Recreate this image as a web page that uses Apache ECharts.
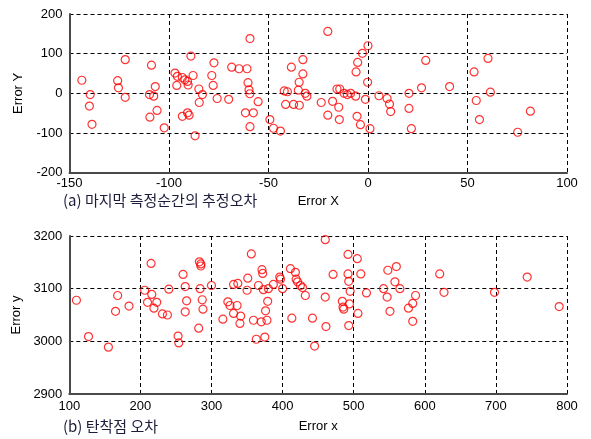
<!DOCTYPE html>
<html>
<head>
<meta charset="utf-8">
<script src="https://cdn.jsdelivr.net/npm/echarts@6/dist/echarts.min.js"></script>
<style>
  html, body { margin: 0; padding: 0; background: #fff; }
  #chart { width: 591px; height: 439px; }
</style>
</head>
<body>
<div id="chart"></div>
<script>
// (a) estimation error at the last measurement instant: [Error X, Error Y]
const lastMeasureError = [
  [-143.8, 33], [-139.6, -3], [-140, -32], [-138.7, -78], [-125.8, 32], [-125.4, 14],
  [-122, 85], [-122, -10], [-108.8, 71], [-109.8, -3], [-107.7, -7], [-106.9, 17],
  [-106, -43], [-109.6, -60], [-102.4, -87],
  [-97, 51], [-95.8, 43], [-96.1, 20], [-93.3, 40], [-92, 34], [-90.7, 30], [-89, 94],
  [-87.9, 45], [-90.4, 21],
  [-93.3, -58], [-90.7, -49], [-89.9, -55], [-86.9, -107], [-85, 11], [-83.2, -3], [-84.8, -23],
  [-77.4, 77], [-78.5, 45], [-77.8, 20], [-75.8, -13], [-70, -15], [-68.5, 66], [-64.8, 62],
  [-60.8, 62], [-60.3, 27], [-59.3, 138], [-59.8, 9], [-59.4, -1], [-61.6, -49], [-57.6, -49],
  [-59.3, -84], [-55.2, -21],
  [-49.3, -66], [-47.5, -88], [-44, -95], [-42.1, 6], [-40.5, 4], [-41.4, -28], [-37.4, -28],
  [-34.5, -30], [-38.5, 66], [-35, 8], [-34.6, 28], [-32.7, 49], [-32.7, 85], [-31.5, 0], [-30.7, -7],
  [-23.5, -23], [-20.2, 156], [-17.8, -20], [-20.2, -55], [-15.6, 11], [-14.2, 11], [-14.7, -35],
  [-14.4, -66], [-12, 0], [-10.4, -3], [-8.7, 0], [-6.2, -7],
  [0, 120], [-2.8, 101], [-5.2, 78], [-6, 54], [-0.2, 28], [-1.3, -15], [-5.5, -58], [-3.8, -79], [1, -89],
  [5.5, -6], [9.6, -13], [10.8, -27], [11.4, -46], [20.6, 0], [20.6, -38], [21.8, -89], [26.9, 14],
  [29, 83], [41, 17], [53.3, 54], [60.3, 88], [61.5, 3], [54.4, -18], [56, -66], [81.6, -45], [75.2, -98]
];

// (b) impact point error: [Error x, Error y]
const impactPointError = [
  [110, 3078], [127, 3009], [155, 2989], [165, 3057], [168, 3087], [184, 3067], [215, 3148],
  [206, 3097], [216, 3089], [210, 3074], [223, 3074], [219, 3063], [231, 3052], [238, 3050],
  [240, 3099], [253, 3010], [254, 2997], [260, 3127], [263, 3104], [265, 3077], [263, 3056],
  [283, 3151], [285, 3147], [285, 3143], [284, 3100], [287, 3079], [288, 3061], [282, 3025], [300, 3106],
  [316, 3042], [323, 3075], [326, 3068], [331, 3053], [331, 3108], [337, 3110], [336, 3068],
  [341, 3048], [340, 3034], [351, 3120], [350, 3097], [356, 3166], [359, 3040], [363, 3004],
  [366, 3106], [371, 3136], [372, 3129], [373, 3098], [376, 3058], [370, 3037], [378, 3040],
  [375, 3008], [379, 3076], [380, 3100], [387, 3108], [396, 3122], [397, 3118], [400, 3100],
  [411, 3138], [418, 3131], [419, 3118], [421, 3113], [425, 3106], [428, 3102], [432, 3087],
  [413, 3044], [442, 3044], [445, 2991],
  [460, 3193], [460, 3084], [461, 3028], [471, 3127], [492, 3165], [505, 3157], [492, 3128],
  [493, 3114], [495, 3095], [484, 3076], [485, 3065], [486, 3061], [494, 3071], [506, 3053],
  [493, 3030], [510, 3128], [518, 3092],
  [542, 3100], [547, 3084], [548, 3135], [560, 3142], [558, 3113], [565, 3100], [551, 3057],
  [577, 3063], [583, 3072], [587, 3087], [583, 3038],
  [621, 3128], [627, 3093], [698, 3093], [744, 3122], [789, 3066]
];

// Axis ranges and tick steps
const axisA = { xMin: -150, xMax: 100, xStep: 50, yMin: -200, yMax: 200, yStep: 100 };
const axisB = { xMin: 100, xMax: 800, xStep: 100, yMin: 2900, yMax: 3200, yStep: 100 };

// Texts
const captionA = '(a) 마지막 측정순간의 추정오차';
const captionB = '(b) 탄착점 오차';
const nameAX = 'Error X', nameAY = 'Error Y';
const nameBX = 'Error x', nameBY = 'Error y';

const font = '"Liberation Sans", Arial, sans-serif';
const gridLine = { show: true, showMinLine: true, showMaxLine: true,
  lineStyle: { color: '#000', type: [4, 3], width: 1 } };
const axisLine = { show: true, onZero: false, lineStyle: { color: '#4a4a4a', width: 2 } };
const labelStyle = { color: '#000', fontSize: 13, fontFamily: font,
  showMinLabel: true, showMaxLabel: true, hideOverlap: false,
  formatter: v => String(v) };

function xAxis(gridIndex, r, name, labelMargin, nameGap) {
  return {
    type: 'value', gridIndex, min: r.xMin, max: r.xMax, interval: r.xStep,
    name, nameLocation: 'middle', nameGap,
    nameTextStyle: { color: '#000', fontSize: 13, fontFamily: font },
    axisLine, axisTick: { show: false }, splitLine: gridLine,
    axisLabel: Object.assign({ margin: labelMargin }, labelStyle)
  };
}
function yAxis(gridIndex, r, name) {
  return {
    type: 'value', gridIndex, min: r.yMin, max: r.yMax, interval: r.yStep,
    name, nameLocation: 'middle', nameGap: 45,
    nameTextStyle: { color: '#000', fontSize: 13, fontFamily: font },
    axisLine, axisTick: { show: false }, splitLine: gridLine,
    axisLabel: Object.assign({ margin: 7 }, labelStyle)
  };
}

const marker = {
  symbol: 'circle', symbolSize: 8,
  itemStyle: { color: 'rgba(0,0,0,0)', borderColor: '#ff0000', borderWidth: 1.2 }
};

const chart = echarts.init(document.getElementById('chart'), null, { renderer: 'canvas' });
chart.setOption({
  animation: false,
  backgroundColor: '#fff',
  grid: [
    { left: 69.5, right: 24, top: 14, bottom: 266.3 },
    { left: 69.3, right: 24, top: 236, bottom: 45 }
  ],
  xAxis: [
    xAxis(0, axisA, nameAX, 4, 22),
    xAxis(1, axisB, nameBX, 6, 26)
  ],
  yAxis: [
    yAxis(0, axisA, nameAY),
    yAxis(1, axisB, nameBY)
  ],
  series: [
    Object.assign({ type: 'scatter', xAxisIndex: 0, yAxisIndex: 0, data: lastMeasureError }, marker),
    Object.assign({ type: 'scatter', xAxisIndex: 1, yAxisIndex: 1, data: impactPointError }, marker)
  ],
  graphic: [
    { type: 'text', left: 63, top: 193,
      style: { text: captionA, fill: '#1c1c3c', fontSize: 15,
        fontFamily: '"Noto Sans CJK KR", sans-serif' } },
    { type: 'text', left: 63, top: 419,
      style: { text: captionB, fill: '#1c1c3c', fontSize: 15,
        fontFamily: '"Noto Sans CJK KR", sans-serif' } }
  ]
});
</script>
</body>
</html>
